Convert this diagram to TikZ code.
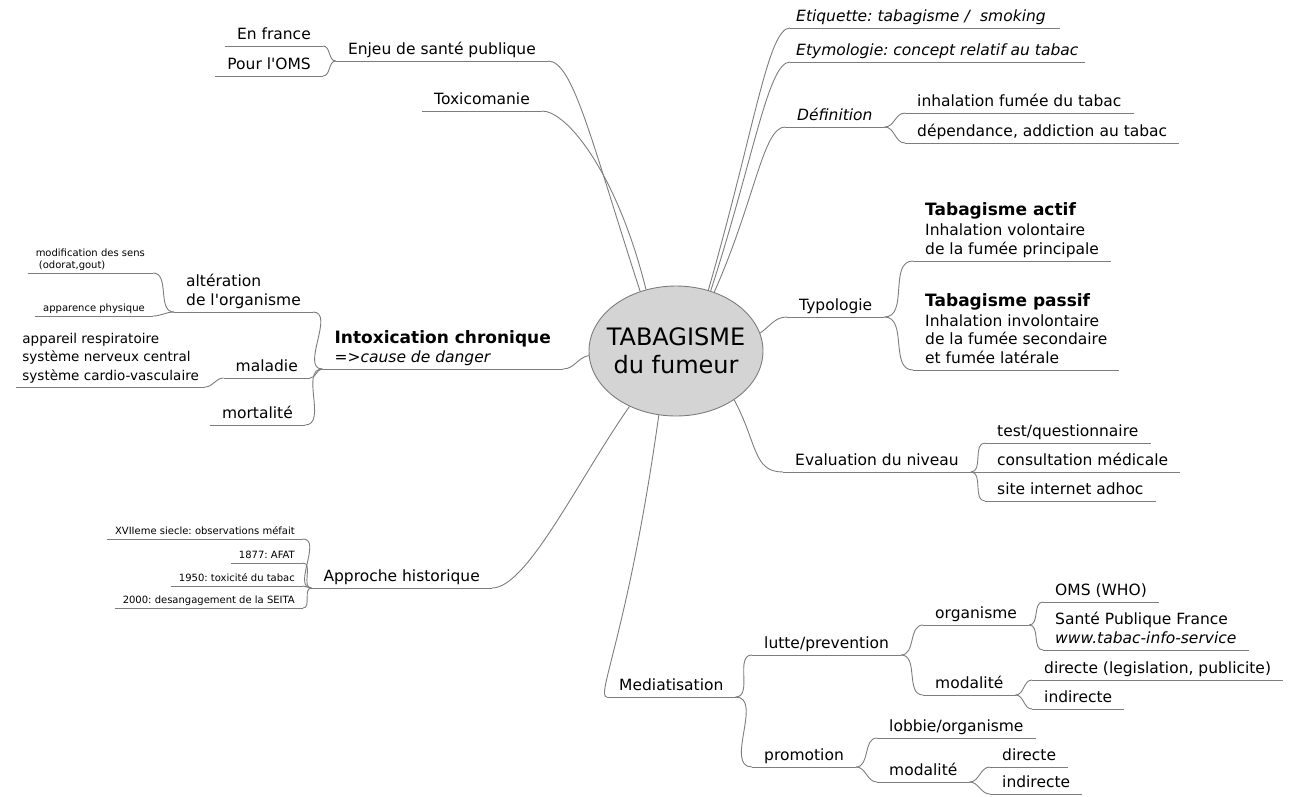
\documentclass[tikz,border=0pt]{standalone}
\usepackage{fontspec}
\setmainfont{DejaVu Sans}[Ligatures=TeXOff,
  ItalicFont={DejaVu Sans Oblique},
  BoldFont={DejaVu Sans Bold},
  BoldItalicFont={DejaVu Sans Bold Oblique}]
\usetikzlibrary{shapes.geometric,positioning}
\frenchspacing
\definecolor{mapline}{RGB}{125,125,125}
\definecolor{mapgrey}{RGB}{212,212,212}
\newcommand{\mapnormal}{\fontsize{15.5}{18.5}\selectfont}
\newcommand{\mapmedium}{\fontsize{13.5}{18.5}\selectfont}
\newcommand{\mapsmall}{\fontsize{10}{11.5}\selectfont}
\newcommand{\mapbold}{\fontsize{17}{20}\selectfont\bfseries}
\newcommand{\mapcentre}{\fontsize{24}{28}\selectfont}

\begin{document}
\begin{tikzpicture}[x=1pt, y=1pt,
    branch/.style={draw=mapline, line width=0.9pt},
    rtopic/.style={anchor=south west, inner xsep=12pt, inner ysep=1pt, align=left,
                   font=\mapnormal, execute at end node=\strut,
                   append after command={(\tikzlastnode.south west) edge[branch] (\tikzlastnode.south east)}},
    ltopic/.style={rtopic, anchor=south east, align=right},
    minor/.style={font=\mapsmall, inner xsep=8pt},
]
    \useasboundingbox (0,0) rectangle (1299,-796);

    % Centre
    \node[ellipse, draw=mapline, fill=mapgrey, line width=0.9pt, inner xsep=-10pt, inner ysep=0pt,
          minimum width=174pt, minimum height=130pt, align=center, font=\mapcentre]
          (centre) at (676,-351) {TABAGISME\\du fumeur};

    % Right: definitions
    \node[rtopic, font=\mapnormal\itshape, inner xsep=6pt, text width=258pt] (etiquette) at (790,-28) {Etiquette: tabagisme /\ \ smoking};
    \node[rtopic, font=\mapnormal\itshape, inner xsep=6pt] (etymo) at (790,-62) {Etymologie: concept relatif au tabac};
    \node[rtopic, font=\mapnormal\itshape] (defin) at (785,-127) {Définition};
    \node[rtopic] (inhal) at (905,-113) {inhalation fumée du tabac};
    \node[rtopic] (depend) at (905,-143) {dépendance, addiction au tabac};

    % Right: typologie
    \node[rtopic] (typo) at (787,-317) {Typologie};
    \node[rtopic] (actif) at (913,-261) {{\mapbold Tabagisme actif}\\[1.5pt]Inhalation volontaire\\de la fumée principale};
    \node[rtopic] (passif) at (913,-370) {{\mapbold Tabagisme passif}\\[1.5pt]Inhalation involontaire\\de la fumée secondaire\\et fumée latérale};

    % Right: evaluation
    \node[rtopic] (eval) at (783,-472) {Evaluation du niveau};
    \node[rtopic] (test) at (985,-443) {test/questionnaire};
    \node[rtopic] (consult) at (985,-472) {consultation médicale};
    \node[rtopic] (site) at (985,-501) {site internet adhoc};

    % Bottom: mediatisation
    \node[rtopic] (media) at (607,-697) {Mediatisation};
    \node[rtopic] (lutte) at (752,-655) {lutte/prevention};
    \node[rtopic] (promo) at (752,-767) {promotion};
    \node[rtopic] (orga) at (923,-625) {organisme};
    \node[rtopic] (lmodal) at (923,-695) {modalité};
    \node[rtopic] (oms) at (1043,-602) {OMS (WHO)};
    \node[rtopic] (spf) at (1043,-650) {Santé Publique France\\\textit{www.tabac-info-service}};
    \node[rtopic] (ldirecte) at (1032,-680) {directe (legislation, publicite)};
    \node[rtopic] (lindirecte) at (1032,-709) {indirecte};
    \node[rtopic] (lobbie) at (877,-738) {lobbie/organisme};
    \node[rtopic] (pmodal) at (877,-782) {modalité};
    \node[rtopic] (pdirecte) at (990,-767) {directe};
    \node[rtopic] (pindirecte) at (990,-794) {indirecte};

    % Left: sante publique
    \node[ltopic] (enjeu) at (548,-61) {Enjeu de santé publique};
    \node[ltopic] (enfrance) at (323,-46) {En france};
    \node[ltopic] (pouroms) at (323,-76) {Pour l'OMS};
    \node[ltopic] (toxico) at (542,-111) {Toxicomanie};

    % Left: intoxication
    \node[ltopic, align=left] (intox) at (563,-369) {{\mapbold Intoxication chronique}\\{\itshape =>cause de danger}};
    \node[ltopic, align=left] (alter) at (313,-312) {altération\\de l'organisme};
    \node[ltopic, minor, align=left] (modif) at (153,-273) {modification des sens\\\ (odorat,gout)};
    \node[ltopic, minor] (apparence) at (153,-316) {apparence physique};
    \node[ltopic] (maladie) at (310,-378) {maladie};
    \node[ltopic, font=\mapmedium, inner xsep=6pt, align=left] (systemes) at (205,-387) {appareil respiratoire\\système nerveux central\\système cardio-vasculaire};
    \node[ltopic] (mortalite) at (305,-425) {mortalité};

    % Left: histoire
    \node[ltopic] (histo) at (492,-588) {Approche historique};
    \node[ltopic, minor] (h1) at (303,-539) {XVIIeme siecle: observations méfait};
    \node[ltopic, minor] (h2) at (303,-563) {1877: AFAT};
    \node[ltopic, minor] (h3) at (303,-586) {1950: toxicité du tabac};
    \node[ltopic, minor] (h4) at (303,-608) {2000: desangagement de la SEITA};

    % Branches from the centre
    \draw[branch] (centre.62) .. controls +(74:170) and +(-22,0) .. (etiquette.south west);
    \draw[branch] (centre.60) .. controls +(72:140) and +(-22,0) .. (etymo.south west);
    \draw[branch] (centre.57) .. controls +(66:100) and +(-22,0) .. (defin.south west);
    \draw[branch] (centre.12) to[out=35, in=180] (typo.south west);
    \draw[branch] (centre.-40) .. controls +(-62:50) and +(-30,0) .. (eval.south west);
    \draw[branch] (centre.-105) .. controls +(-98:220) and +(-12,0) .. (media.south west);
    \draw[branch] (centre.121) .. controls +(108:160) and +(25,0) .. (enjeu.south east);
    \draw[branch] (centre.116) .. controls +(104:120) and +(25,0) .. (toxico.south east);
    \draw[branch] (centre.183) to[out=190, in=0] (intox.south east);
    \draw[branch] (centre.-130) .. controls +(-125:90) and +(35,0) .. (histo.south east);

    % Sub-branches, right
    \draw[branch] (defin.south east) to[out=0, in=180] (inhal.south west);
    \draw[branch] (defin.south east) to[out=0, in=180] (depend.south west);
    \draw[branch] (typo.south east) to[out=0, in=180] (actif.south west);
    \draw[branch] (typo.south east) to[out=0, in=180] (passif.south west);
    \draw[branch] (eval.south east) to[out=0, in=180] (test.south west);
    \draw[branch] (eval.south east) -- (consult.south west);
    \draw[branch] (eval.south east) to[out=0, in=180] (site.south west);
    \draw[branch] (media.south east) to[out=0, in=180] (lutte.south west);
    \draw[branch] (media.south east) to[out=0, in=180] (promo.south west);
    \draw[branch] (lutte.south east) to[out=0, in=180] (orga.south west);
    \draw[branch] (lutte.south east) to[out=0, in=180] (lmodal.south west);
    \draw[branch] (orga.south east) to[out=0, in=180] (oms.south west);
    \draw[branch] (orga.south east) to[out=0, in=180] (spf.south west);
    \draw[branch] (lmodal.south east) to[out=0, in=180] (ldirecte.south west);
    \draw[branch] (lmodal.south east) to[out=0, in=180] (lindirecte.south west);
    \draw[branch] (promo.south east) to[out=0, in=180] (lobbie.south west);
    \draw[branch] (promo.south east) to[out=0, in=180] (pmodal.south west);
    \draw[branch] (pmodal.south east) to[out=0, in=180] (pdirecte.south west);
    \draw[branch] (pmodal.south east) to[out=0, in=180] (pindirecte.south west);

    % Sub-branches, left
    \draw[branch] (enjeu.south west) to[out=180, in=0] (enfrance.south east);
    \draw[branch] (enjeu.south west) to[out=180, in=0] (pouroms.south east);
    \draw[branch] (intox.south west) to[out=180, in=0] (alter.south east);
    \draw[branch] (intox.south west) to[out=180, in=0] (maladie.south east);
    \draw[branch] (intox.south west) to[out=180, in=0] (mortalite.south east);
    \draw[branch] (alter.south west) to[out=180, in=0] (modif.south east);
    \draw[branch] (alter.south west) to[out=180, in=0] (apparence.south east);
    \draw[branch] (maladie.south west) to[out=180, in=0] (systemes.south east);
    \draw[branch] (histo.south west) to[out=180, in=0] (h1.south east);
    \draw[branch] (histo.south west) to[out=180, in=0] (h2.south east);
    \draw[branch] (histo.south west) to[out=180, in=0] (h3.south east);
    \draw[branch] (histo.south west) to[out=180, in=0] (h4.south east);
\end{tikzpicture}
\end{document}
